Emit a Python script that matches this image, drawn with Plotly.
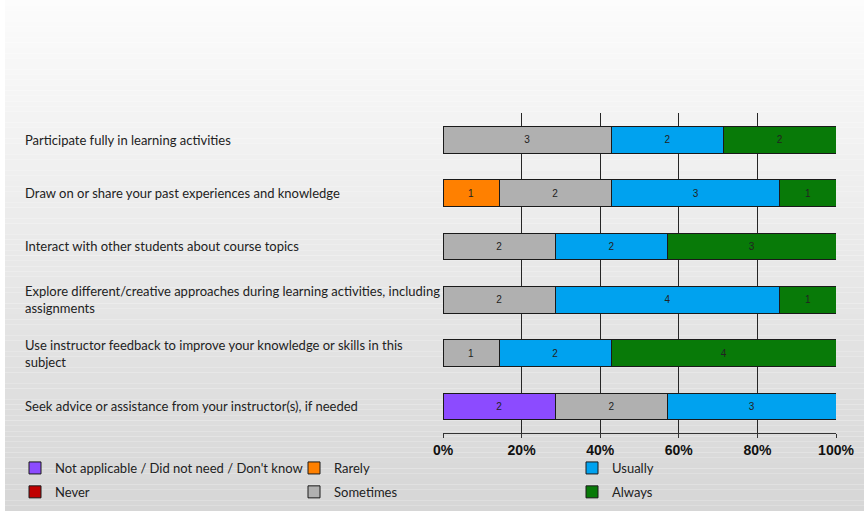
import plotly.graph_objects as go

categories = [
    "Participate fully in learning activities",
    "Draw on or share your past experiences and knowledge",
    "Interact with other students about course topics",
    "Explore different/creative approaches during learning activities, including<br>assignments",
    "Use instructor feedback to improve your knowledge or skills in this<br>subject",
    "Seek advice or assistance from your instructor(s), if needed",
]
series_names = [
    "Not applicable / Did not need / Don't know",
    "Never",
    "Rarely",
    "Sometimes",
    "Usually",
    "Always",
]
not_applicable = [0, 0, 0, 0, 0, 2]
never = [0, 0, 0, 0, 0, 0]
rarely = [0, 1, 0, 0, 0, 0]
sometimes = [3, 2, 2, 2, 1, 2]
usually = [2, 3, 2, 4, 2, 3]
always = [2, 1, 3, 1, 4, 0]
series_values = [not_applicable, never, rarely, sometimes, usually, always]
colors = ["#8c4bff", "#c00000", "#ff8000", "#b0b0b0", "#00a2ef", "#087a08"]
legend_ids = ["legend", "legend", "legend2", "legend2", "legend3", "legend3"]
tick_vals = [0, 20, 40, 60, 80, 100]
tick_text = ["0%", "20%", "40%", "60%", "80%", "100%"]

W, H = 864, 511
L, R, T, B = 443, 28, 113, 78
pw, ph = W - L - R, H - T - B

def px_x(p):
    return (p - L) / pw

def px_y(p):
    return (H - B - p) / ph

fig = go.Figure()
for name, vals, col, lg in zip(series_names, series_values, colors, legend_ids):
    fig.add_trace(go.Bar(
        name=name,
        y=categories,
        x=vals,
        orientation="h",
        marker=dict(color=col, line=dict(color="#1a1a1a", width=1)),
        text=[str(v) if v else "" for v in vals],
        textposition="inside",
        insidetextanchor="middle",
        textangle=0,
        textfont=dict(family="Liberation Sans", size=10, color="#222222"),
        width=0.5,
        legend=lg,
        legendgroup=name,
        hoverinfo="skip",
    ))

# background gradient strips (styling only)
shapes = []
n = 96
for i in range(n):
    y0 = i / n
    y1 = (i + 1) / n
    c = round(252 - 38 * (i + 0.5) / n)
    shapes.append(dict(type="rect", xref="paper", yref="paper",
                       x0=px_x(5), x1=px_x(W + 2),
                       y0=px_y(y0 * H), y1=px_y(y1 * H) if i < n - 1 else px_y(H + 2),
                       fillcolor=f"rgb({c},{c},{c})", line=dict(width=0),
                       layer="below"))

annotations = []
for cat in categories:
    annotations.append(dict(
        x=px_x(23), xref="paper", y=cat, yref="y",
        text=cat, showarrow=False, xanchor="left", yanchor="middle", align="left",
        font=dict(family="Lato", size=13, color="#222222"),
    ))

legend_font = dict(family="Lato", size=13, color="#222222")
common_legend = dict(orientation="v", font=legend_font, bgcolor="rgba(0,0,0,0)",
                     yanchor="top", xanchor="left", traceorder="grouped",
                     tracegroupgap=4, itemclick=False, itemdoubleclick=False)

fig.update_layout(
    width=W, height=H,
    margin=dict(l=L, r=R, t=T, b=B, pad=0, autoexpand=False),
    barmode="stack",
    barnorm="percent",
    paper_bgcolor="white",
    plot_bgcolor="rgba(0,0,0,0)",
    shapes=shapes,
    annotations=annotations,
    legend=dict(x=px_x(15), y=px_y(453), **common_legend),
    legend2=dict(x=px_x(294), y=px_y(453), **common_legend),
    legend3=dict(x=px_x(572), y=px_y(453), **common_legend),
    xaxis=dict(
        range=[0, 100], tickvals=tick_vals, ticktext=tick_text,
        showgrid=True, gridcolor="#262626", gridwidth=1,
        zeroline=False, showline=True, linecolor="#333333", linewidth=1,
        ticks="outside", ticklen=4, tickcolor="#333333",
        tickfont=dict(family="Liberation Sans", size=14, color="#111111", weight="bold"),
        fixedrange=True, automargin=False,
    ),
    yaxis=dict(
        showticklabels=False, showgrid=False,
        zeroline=False, showline=False, ticks="", fixedrange=True,
        autorange=False, range=[5.5, -0.5], automargin=False,
    ),
    showlegend=True,
)

fig.write_html("out.html", config={"displayModeBar": False},
               post_script="document.body.style.margin='0px';")
